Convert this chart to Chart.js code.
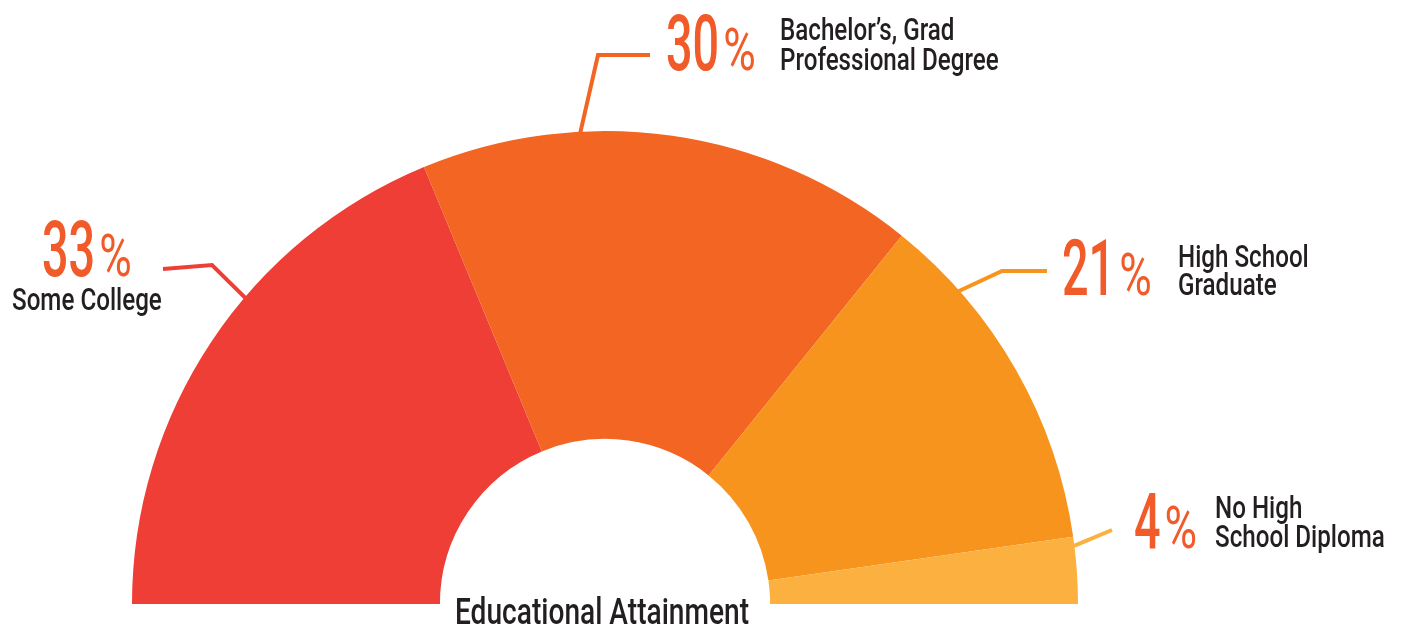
<!DOCTYPE html>
<html>
<head>
<meta charset="utf-8">
<title>Educational Attainment</title>
<script src="https://cdn.jsdelivr.net/npm/chart.js@4/dist/chart.umd.min.js"></script>
<style>
  html, body { margin: 0; padding: 0; background: #ffffff; }
  canvas { display: block; }
</style>
</head>
<body>
<canvas id="chart" width="1405" height="629"></canvas>
<script>
// Educational attainment shares (percent)
const categories = ["Some College", "Bachelor\u2019s, Grad Professional Degree", "High School Graduate", "No High School Diploma"];
const values = [33, 30, 21, 4];
// Label text, split onto lines as printed beside each share
const labelLines = [
  ["Some College"],
  ["Bachelor\u2019s, Grad", "Professional Degree"],
  ["High School", "Graduate"],
  ["No High", "School Diploma"]
];
const sliceColors = ["#EF3E36", "#F26522", "#F7941D", "#FBB040"];
const chartTitle = "Educational Attainment";

// Callout placement (pixels): percentage figure, text lines, leader elbow/end,
// and the preferred angle (degrees, counter-clockwise from +x) where the leader meets its slice.
const callouts = [
  { num: [42, 276],   text: [[12, 310]],               path: [[212, 265], [163, 269]], anchorDeg: 139.6 },
  { num: [666, 70],   text: [[780, 40], [780, 70]],    path: [[598, 55], [650, 55]],   anchorDeg: 93 },
  { num: [1062, 295], text: [[1178, 267], [1178, 295]], path: [[1002, 271], [1047, 271]], anchorDeg: 41.5 },
  { num: [1134, 548], text: [[1215, 518], [1215, 547]], path: [[1112, 530]],           anchorDeg: 8.5 }
];

const FONT = "Roboto, 'Noto Sans', sans-serif";
const NUM_COLOR = "#F15A29";
const TEXT_COLOR = "#231F20";

function drawCondensed(ctx, text, x, y, size, sx, color, weight) {
  ctx.save();
  ctx.font = (weight || 400) + " " + size + "px " + FONT;
  ctx.fillStyle = color;
  ctx.textBaseline = "alphabetic";
  ctx.textAlign = "left";
  ctx.translate(x, y);
  ctx.scale(sx, 1);
  ctx.fillText(text, 0, 0);
  const w = ctx.measureText(text).width * sx;
  ctx.restore();
  return w;
}

function measureCondensed(ctx, text, size, sx, weight) {
  ctx.save();
  ctx.font = (weight || 400) + " " + size + "px " + FONT;
  const w = ctx.measureText(text).width * sx;
  ctx.restore();
  return w;
}

const calloutPlugin = {
  id: "callouts",
  afterDatasetsDraw(chart) {
    const ctx = chart.ctx;
    const arcs = chart.getDatasetMeta(0).data;
    arcs.forEach((arc, i) => {
      const c = callouts[i];
      // leader starts on the slice's outer edge, kept inside the slice's angular range
      const margin = 0.02;
      let a = -c.anchorDeg * Math.PI / 180;
      a = Math.min(Math.max(a, arc.startAngle + margin), arc.endAngle - margin);
      const sx = arc.x + Math.cos(a) * (arc.outerRadius - 1);
      const sy = arc.y + Math.sin(a) * (arc.outerRadius - 1);
      ctx.save();
      ctx.strokeStyle = sliceColors[i];
      ctx.lineWidth = 4;
      ctx.lineJoin = "miter";
      ctx.beginPath();
      ctx.moveTo(sx, sy);
      c.path.forEach(p => ctx.lineTo(p[0], p[1]));
      ctx.stroke();
      ctx.restore();

      // percentage figure with a smaller percent sign
      const dw = drawCondensed(ctx, String(values[i]), c.num[0], c.num[1], 78, 0.6, NUM_COLOR, 500);
      drawCondensed(ctx, "%", c.num[0] + dw + 4, c.num[1], 60, 0.74, NUM_COLOR, 400);

      labelLines[i].forEach((line, k) => {
        const pos = c.text[k];
        drawCondensed(ctx, line, pos[0], pos[1], 31, 0.78, TEXT_COLOR, 500);
      });
    });

    // title across the opening of the ring
    const tw = measureCondensed(ctx, chartTitle, 37, 0.76, 500);
    const cx = arcs[0].x;
    drawCondensed(ctx, chartTitle, cx - tw / 2 - 3, 624, 37, 0.76, TEXT_COLOR, 500);
  }
};

new Chart(document.getElementById("chart"), {
  type: "doughnut",
  data: {
    labels: categories,
    datasets: [{
      data: values,
      backgroundColor: sliceColors,
      borderWidth: 0,
      hoverOffset: 0
    }]
  },
  options: {
    responsive: false,
    animation: false,
    events: [],
    rotation: -90,
    circumference: 180,
    radius: 473,
    cutout: "34.9%",
    layout: { padding: { left: 0, right: 195, top: 106, bottom: 0 } },
    plugins: {
      legend: { display: false },
      tooltip: { enabled: false },
      title: { display: false }
    }
  },
  plugins: [calloutPlugin]
});
</script>
</body>
</html>
